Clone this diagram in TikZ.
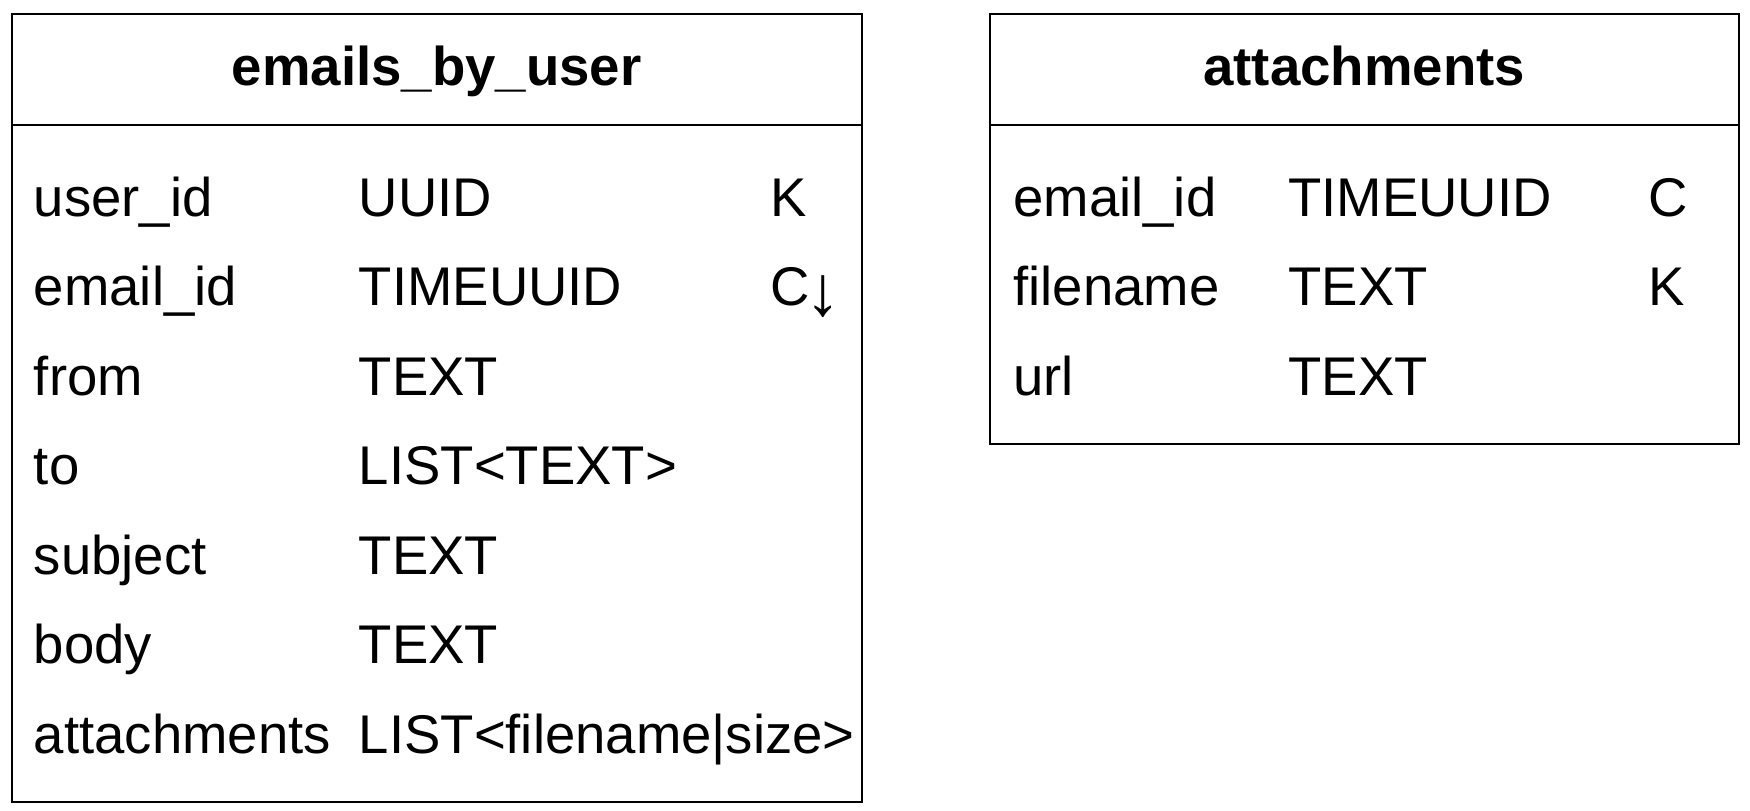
\documentclass[tikz,border=0pt]{standalone}
\usepackage{fontspec}
\usepackage{graphicx}
\setmainfont{Liberation Sans}
\newcommand{\darrow}{\kern-0.08em\raisebox{-0.19em}{\scalebox{1.3}{↓}}}
\begin{document}
\begin{tikzpicture}[x=0.5pt,y=-0.5pt,
  tbl/.style={draw=black,line width=1pt},
  cell/.style={anchor=base west,inner sep=0pt,font=\fontsize{27.25pt}{32pt}\selectfont},
  ttl/.style={anchor=base,inner sep=0pt,font=\fontsize{27.3pt}{32pt}\selectfont\bfseries}]
\useasboundingbox (0,0) rectangle (1750,810);
% left table
\draw[tbl] (11.5,14.3) rectangle (862,802.3);
\draw[tbl] (11.5,125) -- (862,125);
\node[ttl] (t1) at (436.7,85) {emails\_by\_user};
\node[cell] (a1) at (33.5,216) {user\_id};
\node[cell] (b1) at (358.5,216) {UUID};
\node[cell] (c1) at (770,216) {K};
\node[cell] (a2) at (33.5,305.5) {email\_id};
\node[cell] (b2) at (358.5,305.5) {TIMEUUID};
\node[cell] (c2) at (770,305.5) {C\darrow};
\node[cell] (a3) at (33.5,395) {from};
\node[cell] (b3) at (358.5,395) {TEXT};
\node[cell] (a4) at (33.5,484.5) {to};
\node[cell] (b4) at (358.5,484.5) {LIST<TEXT>};
\node[cell] (a5) at (33.5,574) {subject};
\node[cell] (b5) at (358.5,574) {TEXT};
\node[cell] (a6) at (33.5,663.5) {body};
\node[cell] (b6) at (358.5,663.5) {TEXT};
\node[cell] (a7) at (33.5,753) {attachments};
\node[cell] (b7) at (358.5,753) {LIST<filename|size>};
% right table
\draw[tbl] (990,14.3) rectangle (1738.5,443.7);
\draw[tbl] (990,125) -- (1738.5,125);
\node[ttl] (t2) at (1364.2,85) {attachments};
\node[cell] (d1) at (1013,216) {email\_id};
\node[cell] (e1) at (1288,216) {TIMEUUID};
\node[cell] (f1) at (1648,216) {C};
\node[cell] (d2) at (1013,305.5) {filename};
\node[cell] (e2) at (1288,305.5) {TEXT};
\node[cell] (f2) at (1648,305.5) {K};
\node[cell] (d3) at (1013,395) {url};
\node[cell] (e3) at (1288,395) {TEXT};
\end{tikzpicture}
\end{document}
